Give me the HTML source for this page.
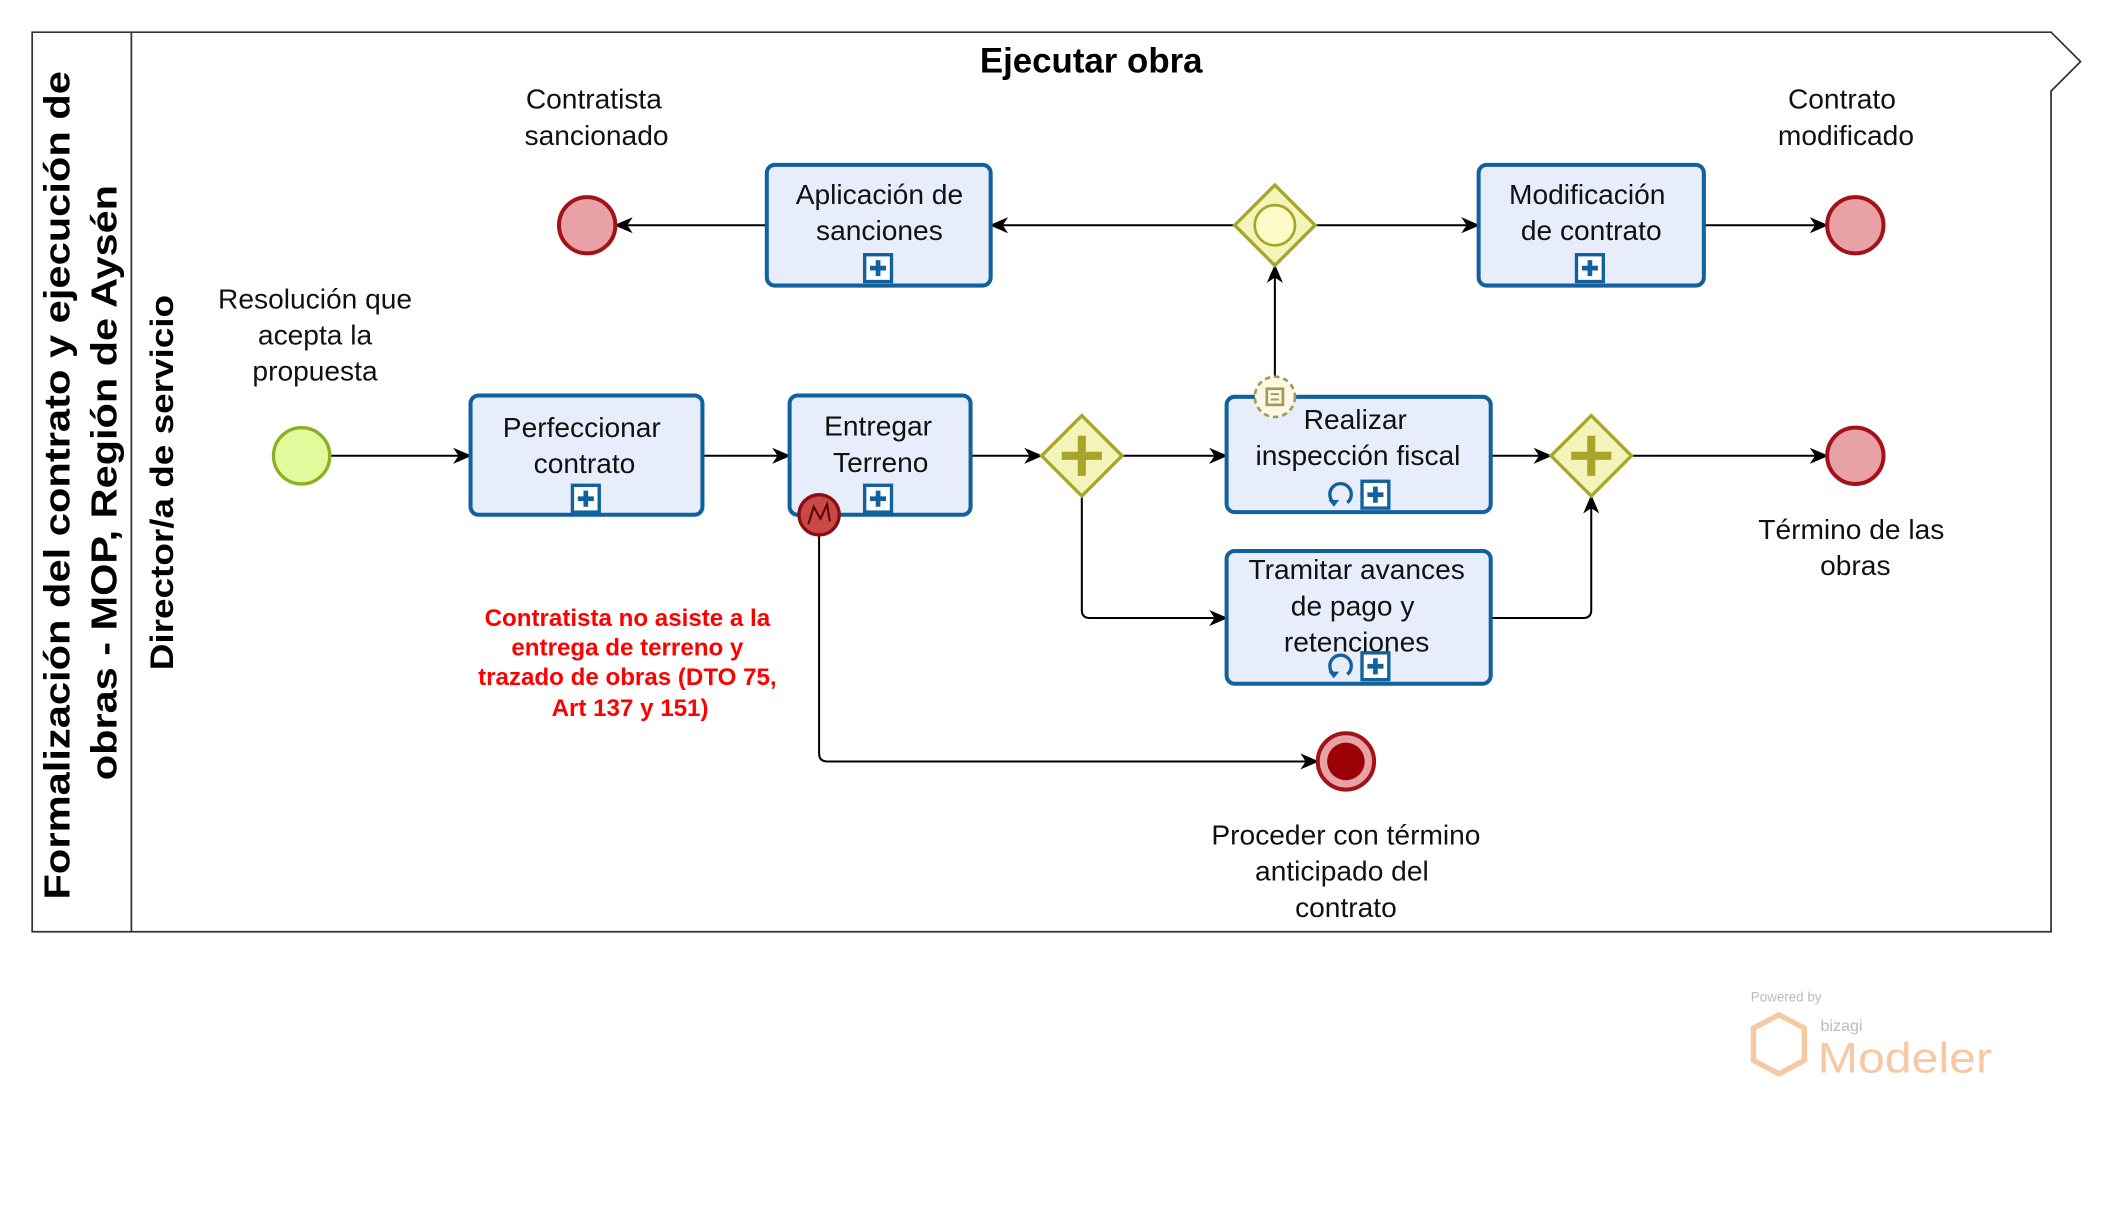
<!DOCTYPE html>
<html><head><meta charset="utf-8"><style>
html,body{margin:0;padding:0;background:#fff;}
svg{display:block;}
text{font-family:"Liberation Sans",sans-serif;}
</style></head><body>
<svg width="2102" height="1232" viewBox="0 0 1568 919" xmlns="http://www.w3.org/2000/svg">
<defs>
<marker id="ar" markerWidth="14" markerHeight="12" refX="13" refY="6" orient="auto" markerUnits="userSpaceOnUse">
<path d="M0,0 L14,6 L0,12 L4,6 Z" fill="#000"/>
</marker>
<g id="plus"><rect x="-10" y="-10" width="20" height="20" fill="#fff" stroke="#10619e" stroke-width="2.5"/><path d="M-6,0H6M0,-6V6" stroke="#10619e" stroke-width="3.5"/></g>
<g id="loop"><path d="M-5,6 A8,8 0 1 1 5,6" fill="none" stroke="#10619e" stroke-width="2.5"/><path d="M-9,4 L-5,9 L-1,4" fill="#10619e"/></g>
</defs>
<rect width="1568" height="919" fill="#fff"/>
<path d="M24,24 H1530 L1552,46 L1530,68 V695 H24 Z" fill="#fff" stroke="#333" stroke-width="1.3"/>
<line x1="98" y1="24" x2="98" y2="695" stroke="#333" stroke-width="1.3"/>
<text transform="translate(52,362) rotate(-90)" text-anchor="middle" font-size="27" font-weight="bold" fill="#000" textLength="618" lengthAdjust="spacingAndGlyphs">Formalización del contrato y ejecución de</text>
<text transform="translate(87,360) rotate(-90)" text-anchor="middle" font-size="27" font-weight="bold" fill="#000" textLength="444" lengthAdjust="spacingAndGlyphs">obras - MOP, Región de Aysén</text>
<text transform="translate(129,360) rotate(-90)" text-anchor="middle" font-size="24" font-weight="bold" fill="#000" textLength="280" lengthAdjust="spacingAndGlyphs">Director/a de servicio</text>
<text x="814" y="54" text-anchor="middle" font-size="26" font-weight="bold">Ejecutar obra</text>

<g font-size="21" fill="#111" text-anchor="middle">
<text x="443" y="81">Contratista</text><text x="445" y="108">sancionado</text>
<text x="1374" y="81">Contrato</text><text x="1377" y="108">modificado</text>
<text x="235" y="230">Resolución que</text><text x="235" y="257">acepta la</text><text x="235" y="284">propuesta</text>
<text x="1381" y="402">Término de las</text><text x="1384" y="429">obras</text>
<text x="1004" y="630">Proceder con término</text><text x="1001" y="657">anticipado del</text><text x="1004" y="684">contrato</text>
</g>
<g font-size="18" font-weight="bold" fill="#ff0000" text-anchor="middle">
<text x="468" y="467">Contratista no asiste a la</text>
<text x="468" y="489">entrega de terreno y</text>
<text x="468" y="511">trazado de obras (DTO 75,</text>
<text x="470" y="534">Art 137 y 151)</text>
</g>

<g stroke="#000" stroke-width="1.5" fill="none" marker-end="url(#ar)">
<line x1="246" y1="340" x2="351" y2="340"/>
<line x1="524" y1="340" x2="589" y2="340"/>
<line x1="724" y1="340" x2="777" y2="340"/>
<line x1="837" y1="340" x2="915" y2="340"/>
<path d="M807,370 V455 Q807,461 813,461 H915"/>
<line x1="1112" y1="340" x2="1157" y2="340"/>
<path d="M1112,461 H1181 Q1187,461 1187,455 V370"/>
<line x1="1217" y1="340" x2="1363" y2="340"/>
<line x1="951" y1="282" x2="951" y2="198"/>
<line x1="921" y1="168" x2="739" y2="168"/>
<line x1="981" y1="168" x2="1103" y2="168"/>
<line x1="572" y1="168" x2="459" y2="168"/>
<line x1="1271" y1="168" x2="1363" y2="168"/>
<path d="M611,399 V562 Q611,568 617,568 H983"/>
</g>

<circle cx="225" cy="340" r="21" fill="#e3fa9c" stroke="#8cb021" stroke-width="2.5"/>
<circle cx="438" cy="168" r="21" fill="#e8a1a5" stroke="#a31218" stroke-width="3"/>
<circle cx="1384" cy="168" r="21" fill="#e8a1a5" stroke="#a31218" stroke-width="3"/>
<circle cx="1384" cy="340" r="21" fill="#e8a1a5" stroke="#a31218" stroke-width="3"/>
<circle cx="1004" cy="568" r="21" fill="#e8a1a5" stroke="#a31218" stroke-width="3"/>
<circle cx="1004" cy="568" r="14" fill="#9b0006"/>

<g fill="#e8edfb" stroke="#10619e" stroke-width="3">
<rect x="351" y="295" width="173" height="89" rx="6"/>
<rect x="589" y="295" width="135" height="89" rx="6"/>
<rect x="915" y="296" width="197" height="86" rx="6"/>
<rect x="915" y="411" width="197" height="99" rx="6"/>
<rect x="572" y="123" width="167" height="90" rx="6"/>
<rect x="1103" y="123" width="168" height="90" rx="6"/>
</g>
<g font-size="21" fill="#111" text-anchor="middle">
<text x="434" y="326">Perfeccionar</text><text x="436" y="353">contrato</text>
<text x="655" y="325">Entregar</text><text x="657" y="352">Terreno</text>
<text x="1011" y="320">Realizar</text><text x="1013" y="347">inspección fiscal</text>
<text x="1012" y="432">Tramitar avances</text><text x="1009" y="459">de pago y</text><text x="1012" y="486">retenciones</text>
<text x="656" y="152">Aplicación de</text><text x="656" y="179">sanciones</text>
<text x="1184" y="152">Modificación</text><text x="1187" y="179">de  contrato</text>
</g>
<use href="#plus" x="437" y="372"/>
<use href="#plus" x="655" y="372"/>
<use href="#plus" x="655" y="200"/>
<use href="#plus" x="1186" y="200"/>
<use href="#plus" x="1026" y="369"/>
<use href="#plus" x="1026" y="497"/>
<use href="#loop" x="1000" y="369"/>
<use href="#loop" x="1000" y="497"/>

<circle cx="611" cy="384" r="15" fill="#c94848" stroke="#8a0d12" stroke-width="2.5"/>
<path d="M603,391 L607,378 L612,387 L617,376 L619,389" fill="none" stroke="#5a0000" stroke-width="1.5"/>
<circle cx="951" cy="296" r="15" fill="#fbf8e6" stroke="#a49a55" stroke-width="2" stroke-dasharray="4,3"/>
<rect x="945" y="290" width="12" height="12" fill="none" stroke="#a49a55" stroke-width="2"/>
<path d="M948,294H954M948,298H954" stroke="#a49a55" stroke-width="1.5"/>

<g fill="#f3f4b8" stroke="#a7a62a" stroke-width="2.5">
<path d="M807,310 L837,340 L807,370 L777,340 Z"/>
<path d="M1187,310 L1217,340 L1187,370 L1157,340 Z"/>
<path d="M951,138 L981,168 L951,198 L921,168 Z"/>
</g>
<path d="M807,325V355M792,340H822" stroke="#a7a62a" stroke-width="6"/>
<path d="M1187,325V355M1172,340H1202" stroke="#a7a62a" stroke-width="6"/>
<circle cx="951" cy="168" r="15" fill="#fffbc8" stroke="#a7a62a" stroke-width="2"/>

<text x="1306" y="747" font-size="10" fill="#bbb">Powered by</text>
<text x="1358" y="769" font-size="12" fill="#bbb">bizagi</text>
<text x="1356" y="800" font-size="32" fill="#f6c9a3" textLength="130" lengthAdjust="spacingAndGlyphs">Modeler</text>
<path d="M1327,757 L1346,767 L1346,791 L1327,801 L1308,791 L1308,767 Z" fill="none" stroke="#f6c9a3" stroke-width="4"/>
</svg>
</body></html>
